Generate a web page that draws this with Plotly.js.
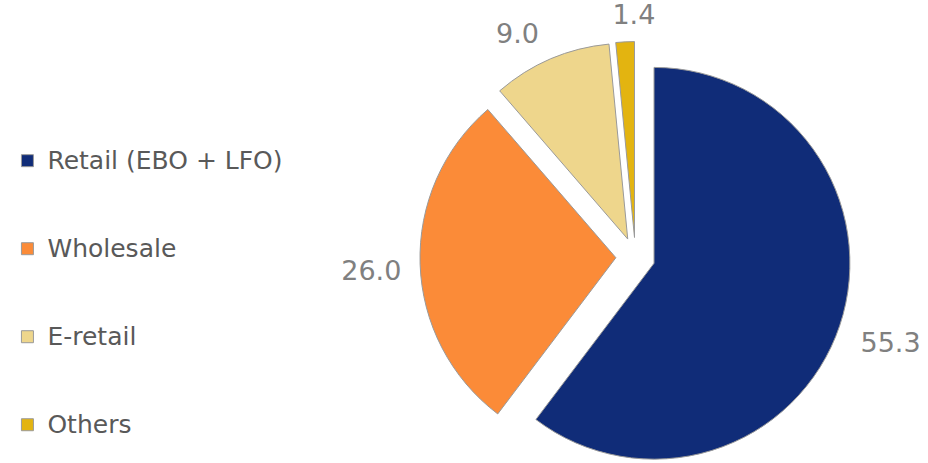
<!DOCTYPE html>
<html>
<head>
<meta charset="utf-8">
<script src="https://cdn.plot.ly/plotly-3.0.1.min.js"></script>
<style>
html,body{margin:0;padding:0;overflow:hidden;background:#fff;}
#chart{width:928px;height:520px;}
</style>
</head>
<body>
<div id="chart"></div>
<script>
const categories = ["Retail (EBO + LFO)", "Wholesale", "E-retail", "Others"];
const values = [55.3, 26.0, 9.0, 1.4];
const colors = ["#102C78", "#FB8B38", "#EED68C", "#E3B410"];

// layout / style settings
const W = 928, H = 520;
const baseDomain = {x: [0.4525, 0.917], y: [0.0913, 0.920]};
const labelShiftPx = [[13, 15], [-11, 6], [-4, -12], [38, -12]];

const legendLabels = categories.map(c => '<span style="font-size:25px">' + c + '</span><br> <br> ');

const common = {
  type: 'pie',
  labels: legendLabels,
  values: values,
  sort: false,
  direction: 'clockwise',
  rotation: 0,
  pull: values.map(() => 0.1),
  texttemplate: '%{value:.1f}',
  outsidetextfont: {family: 'DejaVu Sans', size: 27, color: '#808080'},
  hoverinfo: 'none'
};

const mainPie = Object.assign({}, common, {
  marker: {colors: colors, line: {color: '#9a9a9a', width: 1}},
  textposition: 'none',
  showlegend: true,
  domain: baseDomain
});

const labelPies = values.map((v, i) => Object.assign({}, common, {
  marker: {colors: values.map(() => 'rgba(0,0,0,0)'), line: {width: 0}},
  textposition: values.map((_, j) => j === i ? 'outside' : 'none'),
  showlegend: false,
  domain: {
    x: baseDomain.x.map(d => d + labelShiftPx[i][0] / W),
    y: baseDomain.y.map(d => d - labelShiftPx[i][1] / H)
  }
}));

const layout = {
  width: W,
  height: H,
  margin: {l: 0, r: 0, t: 0, b: 0},
  paper_bgcolor: '#ffffff',
  showlegend: true,
  legend: {
    x: 0.008, xanchor: 'left',
    y: 1 - 140/H, yanchor: 'top',
    valign: 'top',
    font: {family: 'DejaVu Sans', size: 21.8, color: '#595959'},
    bgcolor: 'rgba(0,0,0,0)'
  }
};

Plotly.newPlot('chart', [mainPie].concat(labelPies), layout, {displayModeBar: false, staticPlot: true});
</script>
</body>
</html>
